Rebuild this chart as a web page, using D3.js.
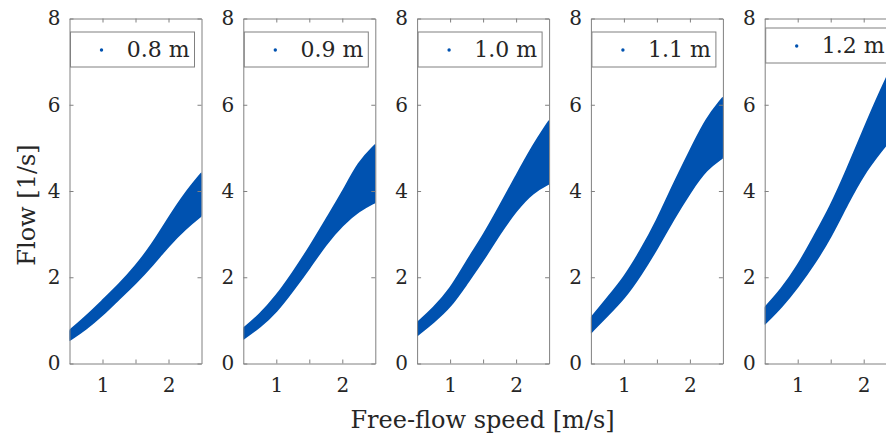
<!DOCTYPE html>
<html lang="en">
<head>
    <meta charset="UTF-8">
    <title>Flow vs free-flow speed</title>
    <script src="https://d3js.org/d3.v7.min.js"></script>
    <style>
        body { margin: 0; background: white; }
        svg text {
            font-family: "DejaVu Serif", serif !important;
            fill: #262626;
        }
    </style>
</head>
<body>
<script>
    // bottleneck widths, one panel each
    const widths = ["0.8", "0.9", "1.0", "1.1", "1.2"];
    // free-flow speed samples where the point cloud edges were read
    const speeds = [0.5, 0.75, 1.0, 1.25, 1.5, 1.75, 2.0, 2.25, 2.5];
    // lower / upper edge of the cloud of flow values [1/s]
    const flowLow = [
        [0.55, 0.81, 1.13, 1.51, 1.87, 2.28, 2.74, 3.13, 3.44],
        [0.58, 0.85, 1.20, 1.70, 2.22, 2.78, 3.22, 3.55, 3.75],
        [0.66, 0.97, 1.31, 1.86, 2.40, 3.02, 3.56, 3.98, 4.18],
        [0.73, 1.12, 1.51, 2.05, 2.67, 3.36, 3.98, 4.52, 4.79],
        [0.93, 1.31, 1.78, 2.32, 2.94, 3.71, 4.41, 4.91, 5.40]
    ];
    const flowHigh = [
        [0.75, 1.08, 1.45, 1.82, 2.24, 2.74, 3.36, 3.94, 4.40],
        [0.80, 1.12, 1.55, 2.09, 2.67, 3.32, 3.94, 4.68, 5.06],
        [0.93, 1.28, 1.70, 2.36, 2.94, 3.63, 4.33, 5.03, 5.61],
        [1.04, 1.51, 1.97, 2.59, 3.29, 4.14, 4.91, 5.68, 6.15],
        [1.28, 1.70, 2.24, 2.94, 3.63, 4.49, 5.41, 6.30, 7.10]
    ];
    const xTicks = [1, 1.5, 2];
    const xLabels = [1, 2];
    const yTicks = [0, 2, 4, 6, 8];

    const width = 886, height = 439;
    const blue = "#0052b0";
    const axisGrey = "#808080";

    const panelW = 132, panelStep = 173.8, left0 = 69.5;
    const plotTop = 18.5, plotBottom = 363.5;

    const svg = d3.select("body").append("svg")
        .attr("width", width).attr("height", height);

    const x = d3.scaleLinear().domain([0.5, 2.5]).range([0, panelW]);
    const y = d3.scaleLinear().domain([0, 8]).range([plotBottom, plotTop]);

    widths.forEach((w, i) => {
        const g = svg.append("g")
            .attr("transform", `translate(${left0 + i * panelStep},0)`);

        g.append("clipPath").attr("id", "clip" + i)
            .append("rect")
            .attr("x", 0).attr("y", plotTop)
            .attr("width", panelW).attr("height", plotBottom - plotTop);

        const band = speeds.map((s, k) => ({s: s, lo: flowLow[i][k], hi: flowHigh[i][k]}));
        const area = d3.area()
            .x(d => x(d.s))
            .y0(d => y(d.lo))
            .y1(d => y(d.hi))
            .curve(d3.curveBasis);

        g.append("path")
            .datum(band)
            .attr("clip-path", `url(#clip${i})`)
            .attr("d", area)
            .style("fill", blue)
            .style("stroke", blue)
            .style("stroke-width", 2.5)
            .style("stroke-linejoin", "round");

        // box with inward ticks
        g.append("g").attr("transform", `translate(0,${plotBottom})`)
            .call(d3.axisBottom(x).tickValues(xTicks).tickSize(-4).tickSizeOuter(0).tickPadding(14)
                .tickFormat(d => xLabels.includes(d) ? d : ""));
        g.append("g").attr("transform", `translate(0,${plotTop})`)
            .call(d3.axisTop(x).tickValues(xTicks).tickSize(-4).tickSizeOuter(0).tickFormat(""));
        g.append("g")
            .call(d3.axisLeft(y).tickValues(yTicks).tickSize(-4).tickSizeOuter(0).tickPadding(9));
        g.append("g").attr("transform", `translate(${panelW},0)`)
            .call(d3.axisRight(y).tickValues(yTicks).tickSize(-4).tickSizeOuter(0).tickFormat(""));

        g.selectAll(".domain, .tick line").style("stroke", axisGrey);
        g.selectAll(".tick text")
            .style("font-size", "20px")
            .style("fill", "#262626");

        // legend
        const ly = i === 4 ? 28 : 32;
        const lg = g.append("g").attr("transform", `translate(1,${ly})`);
        lg.append("rect")
            .attr("width", 124).attr("height", 35)
            .style("fill", "white").style("stroke", axisGrey);
        lg.append("circle")
            .attr("cx", 31).attr("cy", 18).attr("r", 1.7)
            .style("fill", blue);
        lg.append("text")
            .attr("x", 119).attr("y", 25)
            .attr("text-anchor", "end")
            .style("font-size", "22px")
            .text(w + " m");
    });

    svg.append("text")
        .attr("x", 482.5).attr("y", 428)
        .attr("text-anchor", "middle")
        .style("font-size", "24px")
        .text("Free-flow speed [m/s]");

    svg.append("text")
        .attr("transform", "translate(35,205) rotate(-90)")
        .attr("text-anchor", "middle")
        .style("font-size", "24px")
        .text("Flow [1/s]");
</script>
</body>
</html>
